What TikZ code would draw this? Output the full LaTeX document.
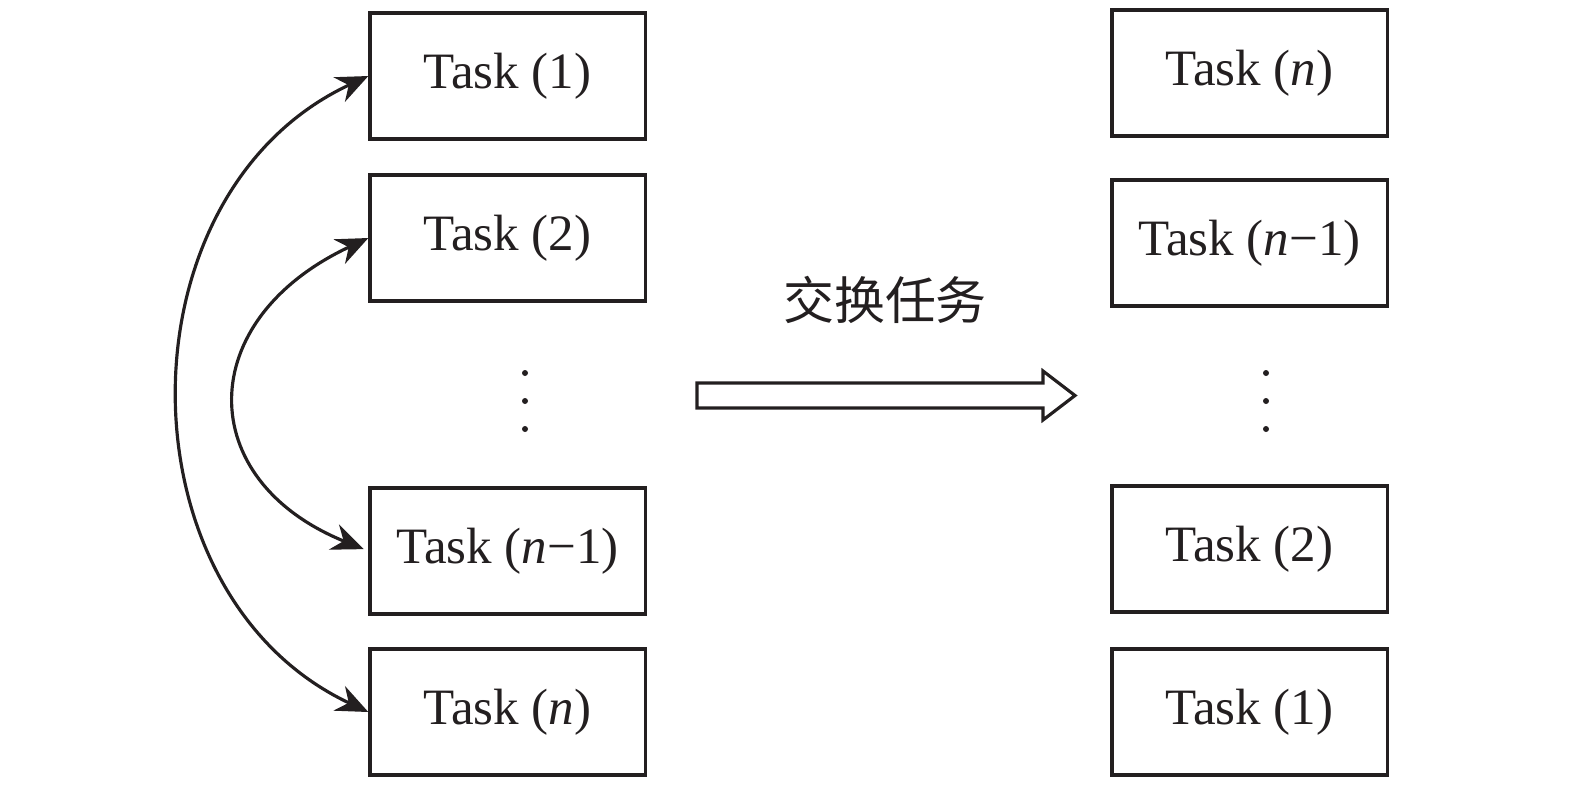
\documentclass[tikz,border=0pt]{standalone}
\usepackage{fontspec}
\setmainfont{Liberation Serif}
\newfontfamily\cjk{Noto Sans CJK SC}
\usetikzlibrary{arrows.meta}
\definecolor{ink}{HTML}{231F20}
\tikzset{
  taskbox/.style={draw=ink, line width=0.9pt, minimum width=2.75cm,
    minimum height=1.26cm, inner sep=0pt, text=ink, font=\fontsize{14.5}{17}\selectfont}
}
\begin{document}
\begin{tikzpicture}[x=0.01cm, y=-0.01cm]
      \useasboundingbox (0,0) rectangle (1575,790);

      % Boxes (before)
      \node[taskbox] (l1) at (507.5,76) {Task (1)};
      \node[taskbox] (l2) at (507.5,238) {Task (2)};
      \node[taskbox] (l3) at (507.5,551) {Task (\textit{n}−1)};
      \node[taskbox] (l4) at (507.5,712) {Task (\textit{n})};

      % Boxes (after)
      \node[taskbox] (r1) at (1249.5,73) {Task (\textit{n})};
      \node[taskbox] (r2) at (1249.5,243) {Task (\textit{n}−1)};
      \node[taskbox] (r3) at (1249.5,549) {Task (2)};
      \node[taskbox] (r4) at (1249.5,712) {Task (1)};

      % Dots
      \foreach \y in {373,401,429} {
        \fill[ink] (525,\y) circle (0.03cm);
        \fill[ink] (1266,\y) circle (0.03cm);
      }

      % Arcs (swap)
      \draw[{Stealth[length=0.32cm,width=0.27cm]}-{Stealth[length=0.32cm,width=0.27cm]}, line width=0.9pt, ink]
        (l1.west) .. controls (117,193) and (117,594) .. (l4.west);
      \draw[{Stealth[length=0.32cm,width=0.27cm]}-{Stealth[length=0.32cm,width=0.27cm]}, line width=0.9pt, ink, shorten >=0.05cm]
        (l2.west) .. controls (193,320) and (193,480) .. (l3.west);

      % Big arrow
      \draw[line width=0.9pt, ink, line join=miter]
        (697,383) -- (1043,383) -- (1043,371) -- (1075,395.5)
        -- (1043,420) -- (1043,408) -- (697,408) -- cycle;
      \node[text=ink, font=\cjk\fontsize{14.5}{18}\selectfont] (swap) at (885,300) {交换任务};
\end{tikzpicture}
\end{document}
